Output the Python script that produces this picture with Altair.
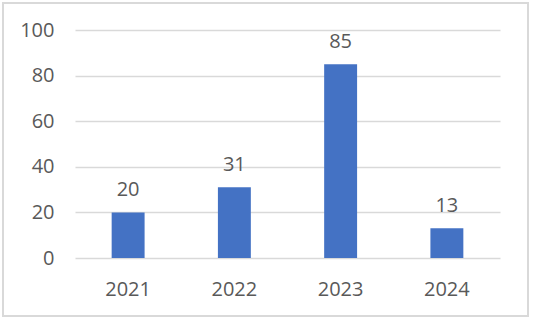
import altair as alt
import pandas as pd

years = ["2021", "2022", "2023", "2024"]
values = [20, 31, 85, 13]

df = pd.DataFrame({"year": years, "value": values})

FONT = "Open Sans"
TXT = "#595959"
FS = 20

x = alt.X("year:N", sort=years, title=None,
          scale=alt.Scale(paddingInner=0, paddingOuter=0),
          axis=alt.Axis(labelAngle=0, domain=False, ticks=False, labelFont=FONT,
                        labelFontSize=FS, labelColor=TXT, labelBaseline="alphabetic",
                        labelPadding=37))
y = alt.Y("value:Q", title=None,
          scale=alt.Scale(domain=[0, 100], nice=False),
          axis=alt.Axis(values=[0, 20, 40, 60, 80, 100], domain=False, ticks=False,
                        gridColor="#D9D9D9", gridWidth=1.5, labelFont=FONT,
                        labelFontSize=FS, labelColor=TXT, labelPadding=21))

bars = alt.Chart(df).mark_bar(color="#4472C4", width=alt.RelativeBandSize(0.31)).encode(x=x, y=y)
labels = alt.Chart(df).mark_text(baseline="alphabetic", dy=-16, font=FONT, fontSize=FS, color=TXT).encode(
    x=alt.X("year:N", sort=years), y="value:Q", text="value:Q")
border = alt.Chart(df).mark_rect(fill=None, stroke="#D9D9D9", strokeWidth=1.5, clip=False).encode(
    x=alt.value(-72), x2=alt.value(453), y=alt.value(-27), y2=alt.value(286))

chart = alt.layer(bars, labels, border).properties(
    width=425, height=228,
    autosize=alt.AutoSizeParams(type="none"),
    padding={"left": 75, "top": 30, "right": 33, "bottom": 62},
    background="white",
).configure_view(stroke=None)

chart.save("out.html", embed_options={"renderer": "svg", "actions": False})
